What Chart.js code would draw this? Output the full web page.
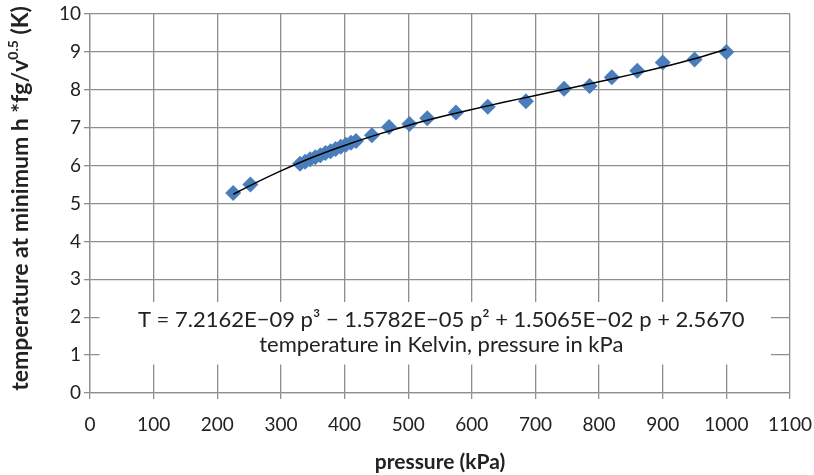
<!DOCTYPE html>
<html>
<head>
<meta charset="utf-8">
<script src="https://cdn.jsdelivr.net/npm/chart.js@4"></script>
<style>
  html, body { margin: 0; padding: 0; background: #fff; }
  #wrap { width: 814px; height: 475px; }
</style>
</head>
<body>
<div id="wrap"><canvas id="myChart" width="814" height="475"></canvas></div>
<script>
// measured points
const pressures = [225, 252, 330, 338, 346, 354, 362, 370, 378, 386, 394, 402, 410, 418, 443, 470, 502, 530, 575, 625, 685, 745, 785, 820, 860, 900, 950, 1000];
const temps     = [5.28, 5.5, 6.05, 6.1, 6.17, 6.22, 6.27, 6.33, 6.38, 6.44, 6.5, 6.55, 6.6, 6.65, 6.8, 7.02, 7.1, 7.25, 7.4, 7.55, 7.7, 8.03, 8.1, 8.33, 8.5, 8.72, 8.8, 9.0];

// trendline
const fitP = [225, 250, 300, 350, 400, 450, 500, 550, 600, 650, 700, 750, 800, 850, 900, 950, 1000];
const fitT = [5.24, 5.46, 5.86, 6.22, 6.53, 6.81, 7.06, 7.28, 7.48, 7.67, 7.85, 8.03, 8.21, 8.40, 8.60, 8.82, 9.07];

const X_MIN = 0, X_MAX = 1100, X_STEP = 100;
const Y_MIN = 0, Y_MAX = 10, Y_STEP = 1;

const xTitle = 'pressure (kPa)';
const yTitle = ['temperature at minimum h *fg/v', '0.5', ' (K)'];
const noteLines = ['T = 7.2162E\u221209 p\u00b3 \u2212 1.5782E\u221205 p\u00b2 + 1.5065E\u221202 p + 2.5670',
                   'temperature in Kelvin, pressure in kPa'];

const FONT = 'Lato, "Open Sans", sans-serif';
const GRID = '#8e8e8e';
const TXT = '#222';

const toXY = (xs, ys) => xs.map((x, i) => ({x: x, y: ys[i]}));

const labelPlugin = {
  id: 'labelPlugin',
  beforeDatasetsDraw(chart) {
    const {ctx, scales: {x, y}} = chart;
    ctx.save();
    // white box behind the equation
    const l = x.getPixelForValue(15), r = x.getPixelForValue(1070);
    const t = y.getPixelForValue(2.4), b = y.getPixelForValue(0.75);
    ctx.fillStyle = '#fff';
    ctx.fillRect(l, t, r - l, b - t);
    ctx.fillStyle = TXT;
    ctx.font = '22px ' + FONT;
    ctx.textAlign = 'center';
    ctx.textBaseline = 'middle';
    const cx = x.getPixelForValue(552);
    ctx.fillText(noteLines[0], cx, y.getPixelForValue(1.93));
    ctx.fillText(noteLines[1], cx, y.getPixelForValue(1.27));
    ctx.restore();
  },
  afterDraw(chart) {
    const {ctx, chartArea} = chart;
    ctx.save();
    ctx.fillStyle = TXT;
    ctx.textBaseline = 'middle';
    // x title
    ctx.font = 'bold 21px ' + FONT;
    ctx.textAlign = 'center';
    ctx.fillText(xTitle, (chartArea.left + chartArea.right) / 2, 462);
    // y title with superscript
    const big = 'bold 23px ' + FONT, small = 'bold 14px ' + FONT;
    ctx.font = big;
    const w1 = ctx.measureText(yTitle[0]).width;
    const w3 = ctx.measureText(yTitle[2]).width;
    ctx.font = small;
    const w2 = ctx.measureText(yTitle[1]).width;
    const total = w1 + w2 + w3;
    ctx.translate(21, (chartArea.top + chartArea.bottom) / 2 - 5);
    ctx.rotate(-Math.PI / 2);
    ctx.textAlign = 'left';
    let px = -total / 2;
    ctx.font = big;
    ctx.fillText(yTitle[0], px, 0);
    px += w1;
    ctx.font = small;
    ctx.fillText(yTitle[1], px, -8);
    px += w2;
    ctx.font = big;
    ctx.fillText(yTitle[2], px, 0);
    ctx.restore();
  }
};

let myChart;
const setup = () => {
  const ctxt = document.getElementById('myChart').getContext('2d');
  myChart = new Chart(ctxt, {
    type: 'scatter',
    data: {
      datasets: [{
        label: 'trend',
        data: toXY(fitP, fitT),
        showLine: true,
        borderColor: '#000',
        borderWidth: 1.5,
        pointRadius: 0,
        tension: 0.3,
        order: 0
      }, {
        label: 'temperature',
        data: toXY(pressures, temps),
        pointStyle: 'rectRot',
        pointRadius: 8,
        backgroundColor: '#4a7ebb',
        borderColor: '#4a7ebb',
        borderWidth: 0,
        order: 1
      }]
    },
    options: {
      responsive: false,
      animation: false,
      layout: { padding: { left: 0, right: 24, top: 14, bottom: 0 } },
      plugins: { legend: { display: false }, tooltip: { enabled: false } },
      scales: {
        x: {
          type: 'linear',
          min: X_MIN, max: X_MAX,
          ticks: { stepSize: X_STEP, color: TXT, font: { family: FONT, size: 19 }, padding: 14, maxRotation: 0,
                   format: { useGrouping: false } },
          grid: { color: GRID, lineWidth: 1.3, tickLength: 6 },
          border: { color: GRID, width: 1.3 },
          afterFit: s => { s.height = 82; s.paddingLeft = 0; s.paddingRight = 0; }
        },
        y: {
          min: Y_MIN, max: Y_MAX,
          ticks: { stepSize: Y_STEP, color: TXT, font: { family: FONT, size: 19 }, padding: 3 },
          grid: { color: GRID, lineWidth: 1.3, tickLength: 6 },
          border: { color: GRID, width: 1.3 },
          afterFit: s => { s.width = 90; s.paddingTop = 0; s.paddingBottom = 0; }
        }
      }
    },
    plugins: [labelPlugin]
  });
};

window.addEventListener('DOMContentLoaded', setup);
</script>
</body>
</html>
